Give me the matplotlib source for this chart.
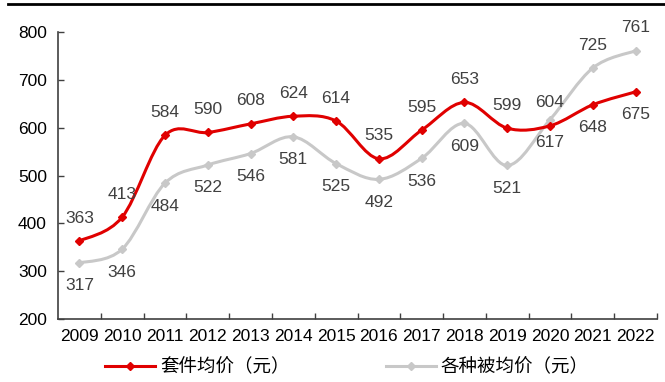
import matplotlib
matplotlib.use("Agg")
import matplotlib.pyplot as plt
from matplotlib.path import Path
from matplotlib.patches import PathPatch
from matplotlib.lines import Line2D

plt.rcParams["font.family"] = ["Liberation Sans", "Noto Sans CJK SC", "DejaVu Sans"]

years = [str(y) for y in range(2009, 2023)]
set_price = [363, 413, 584, 590, 608, 624, 614, 535, 595, 653, 599, 604, 648, 675]
quilt_price = [317, 346, 484, 522, 546, 581, 525, 492, 536, 609, 521, 617, 725, 761]
set_label = "套件均价（元）"
quilt_label = "各种被均价（元）"
# label above (+1) or below (-1) the point
set_side = [1, 1, 1, 1, 1, 1, 1, 1, 1, 1, 1, 1, -1, -1]
quilt_side = [-1, -1, -1, -1, -1, -1, -1, -1, -1, -1, -1, -1, 1, 1]

RED = "#e00000"
GRAY = "#c8c8c8"
TXT = "#404040"


def smooth_path(xs, ys):
    """Excel-style smoothed line as cubic Bezier segments."""
    pts = list(zip(xs, ys))
    n = len(pts)
    verts = [pts[0]]
    codes = [Path.MOVETO]
    for i in range(n - 1):
        p0 = pts[i - 1] if i > 0 else pts[i]
        p1, p2 = pts[i], pts[i + 1]
        p3 = pts[i + 2] if i + 2 < n else pts[i + 1]
        c1 = (p1[0] + (p2[0] - p0[0]) / 6, p1[1] + (p2[1] - p0[1]) / 6)
        c2 = (p2[0] - (p3[0] - p1[0]) / 6, p2[1] - (p3[1] - p1[1]) / 6)
        verts += [c1, c2, p2]
        codes += [Path.CURVE4] * 3
    return Path(verts, codes)


fig = plt.figure(figsize=(6.65, 3.82), dpi=100)
ax = fig.add_axes([0.0872, 0.165, 0.9008, 0.751])

x = list(range(len(years)))
for vals, color, sides in [(quilt_price, GRAY, quilt_side), (set_price, RED, set_side)]:
    ax.add_patch(PathPatch(smooth_path(x, vals), facecolor="none",
                           edgecolor=color, linewidth=2.2, zorder=3))
    ax.plot(x, vals, linestyle="none", marker="D", markersize=4.5,
            color=color, zorder=4)
    for xi, v, s in zip(x, vals, sides):
        ax.annotate(str(v), (xi, v), xytext=(0, 16.5 * s),
                    textcoords="offset points", ha="center", va="center",
                    fontsize=12.5, color=TXT, zorder=5)

ax.set_xlim(-0.5, len(years) - 0.5)
ax.set_ylim(200, 800)
ax.set_yticks(range(200, 801, 100))
ax.set_xticks(x)
ax.set_xticklabels(years)
ax.set_xticks([i + 0.5 for i in x], minor=True)
ax.tick_params(axis="x", which="major", length=0, labelsize=12.5, pad=7,
               colors="black")
ax.tick_params(axis="x", which="minor", direction="in", length=4,
               width=1, color=TXT)
ax.tick_params(axis="y", direction="in", length=4, width=1, color=TXT,
               labelsize=12.5, pad=8, labelcolor="black")
for side in ["top", "right"]:
    ax.spines[side].set_visible(False)
for side in ["left", "bottom"]:
    ax.spines[side].set_color(TXT)
    ax.spines[side].set_linewidth(1.2)

handles = [
    Line2D([], [], color=RED, linewidth=2.2, marker="D", markersize=4.5),
    Line2D([], [], color=GRAY, linewidth=2.2, marker="D", markersize=4.5),
]
fig.legend(handles, [set_label, quilt_label], loc="center",
           bbox_to_anchor=(0.522, 0.039), ncol=2, frameon=False,
           fontsize=13.3, handlelength=2.7, handletextpad=0.27,
           columnspacing=5.2, labelcolor="black")

# thin rule across the top of the figure
fig.add_artist(Line2D([0.012, 1.0], [0.99, 0.99], color="black",
                      linewidth=2, transform=fig.transFigure))

fig.savefig("out.png", dpi=100)
